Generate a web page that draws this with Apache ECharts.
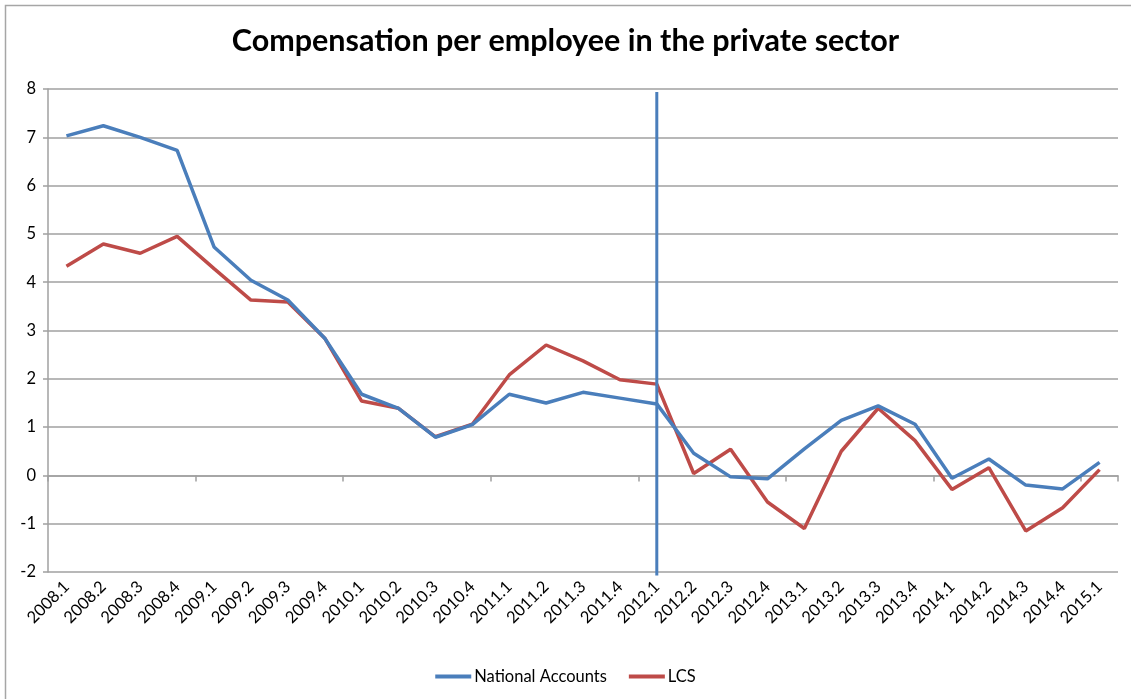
<!DOCTYPE html>
<html>
<head>
<meta charset="utf-8">
<style>
  html, body { margin: 0; padding: 0; background: #ffffff; }
  #chart { width: 1131px; height: 699px; }
</style>
<script src="https://cdn.jsdelivr.net/npm/echarts@6/dist/echarts.min.js"></script>
</head>
<body>
<div id="chart"></div>
<script>
// Quarterly periods
const quarters = [
  '2008.1','2008.2','2008.3','2008.4',
  '2009.1','2009.2','2009.3','2009.4',
  '2010.1','2010.2','2010.3','2010.4',
  '2011.1','2011.2','2011.3','2011.4',
  '2012.1','2012.2','2012.3','2012.4',
  '2013.1','2013.2','2013.3','2013.4',
  '2014.1','2014.2','2014.3','2014.4',
  '2015.1'
];

// Year-on-year growth of compensation per employee, %
const nationalAccounts = [
  7.03, 7.24, 7.00, 6.73,
  4.73, 4.04, 3.63, 2.84,
  1.68, 1.39, 0.79, 1.05,
  1.68, 1.50, 1.72, 1.60,
  1.48, 0.46, -0.03, -0.07,
  0.55, 1.14, 1.44, 1.06,
  -0.06, 0.34, -0.20, -0.28,
  0.27
];

const lcs = [
  4.33, 4.79, 4.60, 4.95,
  4.28, 3.63, 3.59, 2.84,
  1.54, 1.39, 0.80, 1.06,
  2.08, 2.70, 2.37, 1.98,
  1.89, 0.04, 0.54, -0.55,
  -1.10, 0.50, 1.39, 0.72,
  -0.29, 0.16, -1.15, -0.67,
  0.12
];

// Break marker at the start of 2012
const breakPeriod = '2012.1';
const breakRange = [7.94, -2.07];

const yTicks = { min: -2, max: 8, step: 1 };

const BLUE = '#4a7ebb';
const RED = '#be4b48';
const GRID = '#a0a0a0';
const FONT = 'Lato, "Noto Sans", sans-serif';

const gridTop = 89;
const gridBottom = 127;
const plotHeight = 699 - gridTop - gridBottom;
// distance from the bottom of the plot up to the zero line
const zeroOffset = plotHeight * (0 - yTicks.min) / (yTicks.max - yTicks.min);

const chart = echarts.init(document.getElementById('chart'), null, { renderer: 'canvas' });

chart.setOption({
  backgroundColor: '#ffffff',
  animation: false,
  graphic: [{
    type: 'rect',
    shape: { x: 5.5, y: 5.5, width: 1200, height: 800 },
    style: { fill: 'none', stroke: '#a6a6a6', lineWidth: 1.5 },
    silent: true,
    z: 0
  }],
  title: {
    text: 'Compensation per employee in the private sector',
    left: 'center',
    top: 21,
    textStyle: { fontFamily: FONT, fontWeight: 'bold', fontSize: 30.5, color: '#000000' }
  },
  legend: {
    data: ['National Accounts', 'LCS'],
    left: 'center',
    top: 663,
    itemWidth: 36,
    itemHeight: 4,
    itemGap: 22,
    icon: 'rect',
    textStyle: { fontFamily: FONT, fontSize: 16.5, color: '#000000', padding: [0, 0, 0, -2] }
  },
  grid: { left: 48, right: 13, top: gridTop, bottom: gridBottom, containLabel: false },
  xAxis: [{
    type: 'category',
    data: quarters,
    boundaryGap: true,
    position: 'bottom',
    axisLine: { show: false, onZero: false },
    axisTick: { show: false },
    axisLabel: {
      rotate: 45,
      interval: 0,
      margin: 12,
      fontFamily: FONT,
      fontSize: 16.5,
      color: '#000000'
    }
  }, {
    type: 'category',
    data: quarters,
    boundaryGap: true,
    position: 'bottom',
    offset: -zeroOffset,
    axisLine: { show: true, onZero: false, lineStyle: { color: GRID, width: 1.5 } },
    axisTick: { show: true, interval: 3, length: 6, lineStyle: { color: GRID, width: 1.5 } },
    axisLabel: { show: false }
  }],
  yAxis: {
    type: 'value',
    min: yTicks.min,
    max: yTicks.max,
    interval: yTicks.step,
    axisLine: { show: true, lineStyle: { color: GRID, width: 1.5 } },
    axisTick: { show: true, length: 5, lineStyle: { color: GRID, width: 1.5 } },
    splitLine: { show: true, lineStyle: { color: GRID, width: 1.5 } },
    axisLabel: { fontFamily: FONT, fontSize: 16.5, color: '#000000', margin: 12 }
  },
  series: [{
    name: 'National Accounts',
    type: 'line',
    data: nationalAccounts,
    symbol: 'none',
    lineStyle: { color: BLUE, width: 3.5 },
    itemStyle: { color: BLUE },
    z: 3
  }, {
    name: 'LCS',
    type: 'line',
    data: lcs,
    symbol: 'none',
    lineStyle: { color: RED, width: 3.5 },
    itemStyle: { color: RED },
    z: 2
  }, {
    name: 'break',
    type: 'line',
    data: breakRange.map(v => [breakPeriod, v]),
    symbol: 'none',
    clip: false,
    lineStyle: { color: BLUE, width: 3 },
    itemStyle: { color: BLUE },
    z: 4
  }]
});
</script>
</body>
</html>
